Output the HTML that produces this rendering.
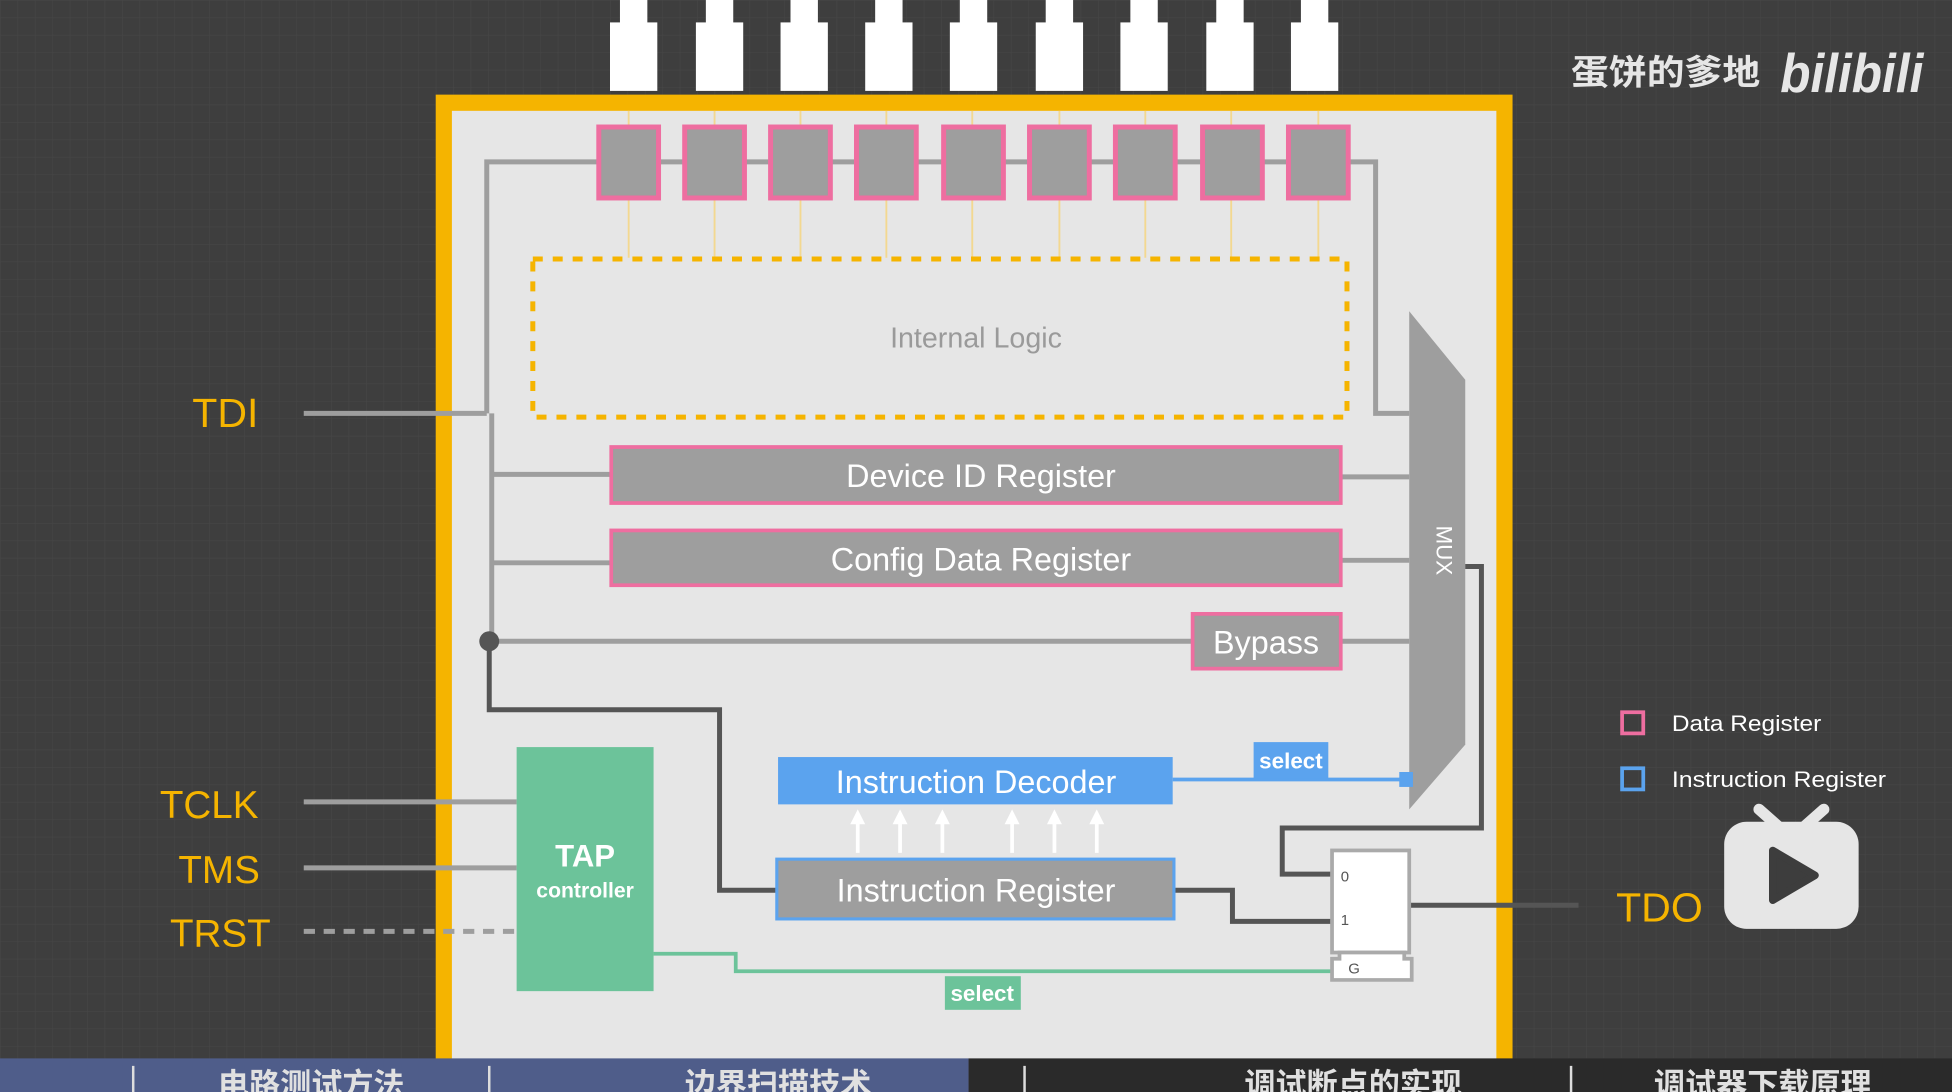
<!DOCTYPE html>
<html><head><meta charset="utf-8"><style>
html,body{margin:0;padding:0;background:#3d3d3d;width:1952px;height:1092px;overflow:hidden}
svg{display:block}
text{font-family:"Liberation Sans","Noto Sans CJK SC",sans-serif}
</style></head><body>
<svg width="1952" height="1092" viewBox="0 0 1568 877" preserveAspectRatio="none" xmlns="http://www.w3.org/2000/svg">
<defs>
<pattern id="g" width="14" height="14" patternUnits="userSpaceOnUse"><rect width="14" height="14" fill="#3e3e3e"/><path d="M0 0H14M0 0V14" stroke="#464646" stroke-width="1"/></pattern>
</defs>
<rect width="1568" height="877" fill="url(#g)"/>
<g fill="#fff">
<g id="pin"><rect x="498" y="0" width="22" height="20"/><rect x="490" y="18" width="38" height="55"/></g>
<use href="#pin" x="69"/><use href="#pin" x="137"/><use href="#pin" x="205"/><use href="#pin" x="273"/><use href="#pin" x="342"/><use href="#pin" x="410"/><use href="#pin" x="479"/><use href="#pin" x="547"/>
</g>
<rect x="350" y="76" width="865" height="801" fill="#f5b400"/>
<rect x="363" y="89" width="839" height="788" fill="#e6e6e6"/>
<g stroke="#f3d890" stroke-width="1.5">
<path d="M505 89V207M574 89V207M643 89V207M712 89V207M781 89V207M851 89V207M920 89V207M989 89V207M1059 89V207"/>
</g>
<g stroke="#9e9e9e" stroke-width="4" fill="none">
<path d="M391 332V130H1105V332H1132"/>
<path d="M244 332H391"/>
<path d="M395 332V515"/>
<path d="M395 381H490M395 452H490M393 515H957"/>
<path d="M1077 383H1132M1077 450H1132M1077 515H1132"/>
<path d="M244 644H415M244 697H415"/>
<path d="M244 748H415" stroke-dasharray="9 7"/>
</g>
<g fill="#9e9e9e" stroke="#ee6ea0" stroke-width="4">
<rect x="481" y="102" width="48" height="57"/><rect x="550" y="102" width="48" height="57"/><rect x="619" y="102" width="48" height="57"/><rect x="688" y="102" width="48" height="57"/><rect x="758" y="102" width="48" height="57"/><rect x="827" y="102" width="48" height="57"/><rect x="896" y="102" width="48" height="57"/><rect x="966" y="102" width="48" height="57"/><rect x="1035" y="102" width="48" height="57"/>
</g>
<rect x="428" y="208" width="654" height="127" fill="none" stroke="#f5b400" stroke-width="4" stroke-dasharray="8 8"/>
<text x="784" y="279" font-size="23" fill="#9a9a9a" text-anchor="middle">Internal Logic</text>
<text x="181" y="343" font-size="33" fill="#f5b400" text-anchor="middle">TDI</text>
<text x="168" y="657" font-size="31" fill="#f5b400" text-anchor="middle">TCLK</text>
<text x="176" y="709" font-size="31" fill="#f5b400" text-anchor="middle">TMS</text>
<text x="177" y="760" font-size="31" fill="#f5b400" text-anchor="middle">TRST</text>
<text x="1333" y="740" font-size="33" fill="#f5b400" text-anchor="middle">TDO</text>
<g fill="#9e9e9e" stroke="#ee6ea0" stroke-width="3">
<rect x="491" y="359" width="586" height="45"/><rect x="491" y="426" width="586" height="44"/><rect x="958" y="493" width="119" height="44"/>
</g>
<g fill="#fff" font-size="26" text-anchor="middle">
<text x="788" y="391">Device ID Register</text>
<text x="788" y="458">Config Data Register</text>
<text x="1017" y="525">Bypass</text>
</g>
<polygon points="1132,250 1177,305 1177,598 1132,650" fill="#9e9e9e"/>
<text x="1146" y="450" font-size="18" fill="#fff" text-anchor="middle" transform="rotate(90 1154 450)">MUX</text>
<g stroke="#555" stroke-width="4" fill="none">
<path d="M393 515V570H578V715H623"/>
<path d="M1177 455H1190V665H1030V702H1070"/>
<path d="M944 715H990V740H1070"/>
<path d="M1132 727H1268"/>
</g>
<circle cx="393" cy="515" r="8" fill="#555"/>
<rect x="415" y="600" width="110" height="196" fill="#6cc39a"/>
<text x="470" y="696" font-size="25" font-weight="bold" fill="#fff" text-anchor="middle">TAP</text>
<text x="470" y="721" font-size="17" font-weight="bold" fill="#fff" text-anchor="middle">controller</text>
<path d="M525 766H591V780H1070" stroke="#6cc39a" stroke-width="3" fill="none"/>
<rect x="759" y="784" width="61" height="27" fill="#6cc39a"/>
<text x="789" y="804" font-size="18" font-weight="bold" fill="#fff" text-anchor="middle">select</text>
<rect x="625" y="608" width="317" height="38" fill="#5ba3ee"/>
<text x="784" y="637" font-size="26" fill="#fff" text-anchor="middle">Instruction Decoder</text>
<path d="M942 626H1128" stroke="#5ba3ee" stroke-width="3"/>
<rect x="1124" y="620" width="11" height="12" fill="#5ba3ee"/>
<rect x="1007" y="596" width="60" height="29" fill="#5ba3ee"/>
<text x="1037" y="617" font-size="18" font-weight="bold" fill="#fff" text-anchor="middle">select</text>
<g stroke="#fff" stroke-width="3" fill="#fff">
<path d="M689 685V660M723 685V660M757 685V660M813 685V660M847 685V660M881 685V660"/>
</g>
<g fill="#fff">
<polygon points="683,662 689,650 695,662"/><polygon points="717,662 723,650 729,662"/><polygon points="751,662 757,650 763,662"/><polygon points="807,662 813,650 819,662"/><polygon points="841,662 847,650 853,662"/><polygon points="875,662 881,650 887,662"/>
</g>
<rect x="624" y="690" width="319" height="48" fill="#9e9e9e" stroke="#5ba3ee" stroke-width="2.5"/>
<text x="784" y="724" font-size="26" fill="#fff" text-anchor="middle">Instruction Register</text>
<rect x="1070" y="683" width="62" height="82" fill="#fff" stroke="#aaa" stroke-width="3"/>
<path d="M1070 787V770H1076V765H1128V770H1134V787Z" fill="#fff" stroke="#aaa" stroke-width="3"/>
<text x="1077" y="708" font-size="12" fill="#555">0</text>
<text x="1077" y="743" font-size="12" fill="#555">1</text>
<text x="1083" y="782" font-size="12" fill="#555">G</text>
<rect x="1303" y="572" width="17" height="17" fill="none" stroke="#ee6ea0" stroke-width="3"/>
<text x="1343" y="587" font-size="18" fill="#fff" textLength="120" lengthAdjust="spacingAndGlyphs">Data Register</text>
<rect x="1303" y="617" width="17" height="17" fill="none" stroke="#5ba3ee" stroke-width="3"/>
<text x="1343" y="632" font-size="18" fill="#fff" textLength="172" lengthAdjust="spacingAndGlyphs">Instruction Register</text>
<path d="M1413 650L1430 665M1465 650L1448 665" stroke="#e6e6e6" stroke-width="9" stroke-linecap="round"/>
<rect x="1385" y="660" width="108" height="86" rx="18" fill="#e6e6e6"/>
<polygon points="1424,683 1424,723 1458,703" fill="#3d3d3d" stroke="#3d3d3d" stroke-width="6" stroke-linejoin="round"/>
<text x="1262" y="68" font-size="28" font-weight="bold" fill="#e6e6e6" textLength="152" lengthAdjust="spacingAndGlyphs">蛋饼的爹地</text>
<text x="1430" y="74" font-size="44" font-weight="bold" font-style="italic" fill="#e6e6e6" textLength="115" lengthAdjust="spacingAndGlyphs">bilibili</text>
<rect x="0" y="850" width="778" height="27" fill="#4f5d8a"/>
<rect x="778" y="850" width="790" height="27" fill="#2a2a2a"/>
<g stroke="#ddd" stroke-width="2"><path d="M107 856V877M393 856V877M823 856V877M1262 856V877"/></g>
<g font-size="25" font-weight="bold" fill="#e0e0e0" text-anchor="middle">
<text x="250" y="880">电路测试方法</text>
<text x="625" y="880">边界扫描技术</text>
<text x="1087" y="880">调试断点的实现</text>
<text x="1416" y="880">调试器下载原理</text>
</g>
</svg>
</body></html>
